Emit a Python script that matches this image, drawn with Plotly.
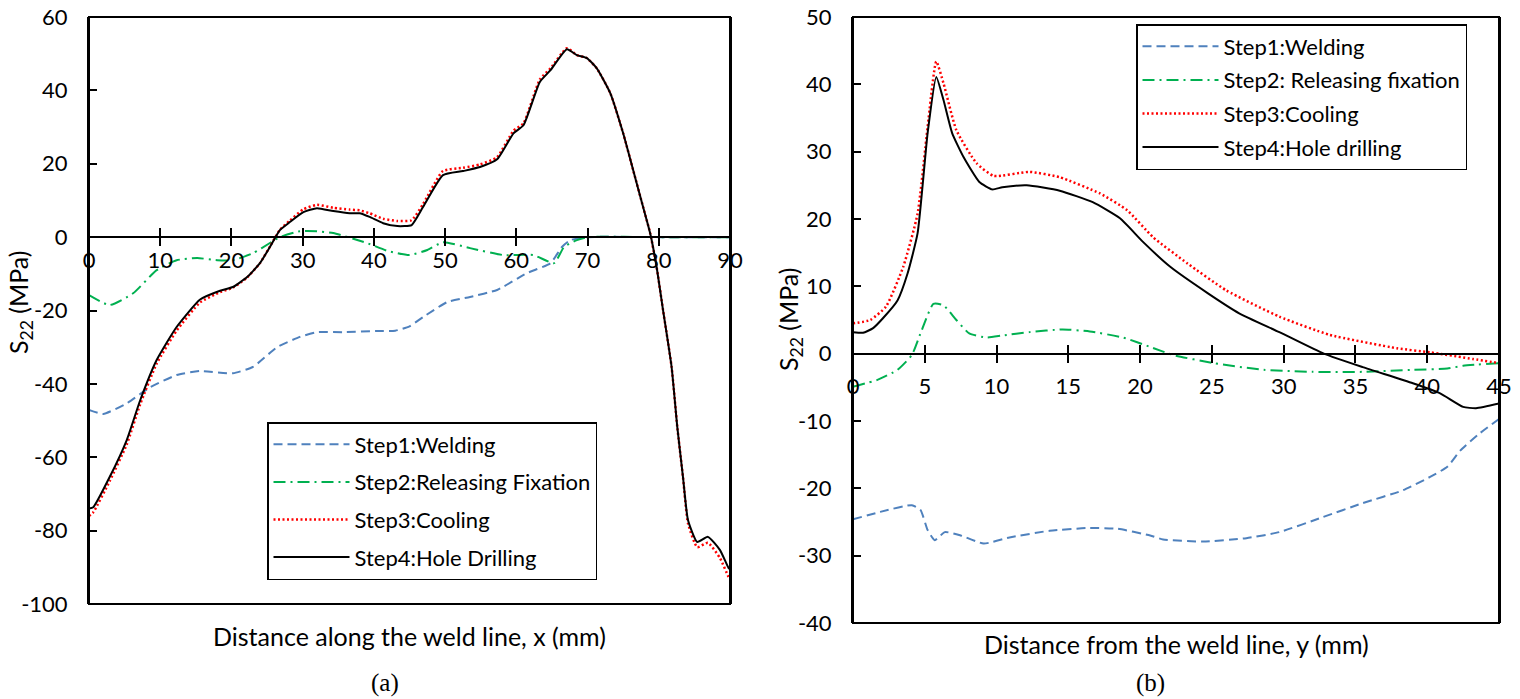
import plotly.graph_objects as go

# ---------------- Data: (a) along the weld line ----------------
a_x_step1 = [0, 2, 5.3, 8.6, 12.3, 15.6, 20.2, 23.0, 26.4, 29.6, 32, 35.7, 40.4, 43, 45, 46.9, 50.3, 53.5, 57.3, 61.5, 64.8, 66.4, 67.6, 70, 80, 90]
a_y_step1 = [-47.1, -48.2, -45.3, -40.9, -37.6, -36.5, -37.1, -35.4, -30, -27.2, -25.9, -25.9, -25.6, -25.5, -24.3, -21.8, -17.7, -16.3, -14.4, -9.8, -7.1, -2.7, -0.8, 0, 0, 0]

a_x_step2 = [0, 2.9, 6.2, 9.5, 12.3, 15.2, 18.0, 20.2, 23.0, 25.4, 26.8, 29.6, 32, 34.3, 39.0, 42, 45, 47.5, 49.7, 53.5, 58.2, 62.4, 65.3, 66.7, 68.5, 70, 80, 90]
a_y_step2 = [-15.8, -18.5, -15.3, -9.0, -6.3, -5.7, -6.3, -6.3, -4.4, -1.6, 0, 1.6, 1.6, 1.1, -1.6, -3.8, -4.9, -3.5, -1.4, -3.0, -4.9, -4.9, -7.1, -2.7, -0.8, 0, 0, 0]

a_x_step3 = [0, 0.6, 2.9, 5.3, 7.2, 9.5, 12.3, 15.6, 18.4, 20.2, 22.2, 24.0, 25.4, 26.8, 28.2, 30.1, 32.0, 34.3, 36.6, 38.0, 39.4, 41.3, 43.3, 45.3, 46.9, 49.7, 52.5, 54.9, 57.3, 59.6, 61.0, 63.3, 64.8, 67.1, 68.5, 69.9, 71.3, 73.2, 75.0, 76.4, 77.8, 78.8, 79.7, 80.6, 81.8, 82.6, 83.4, 84.1, 85.4, 86.9, 88.6, 89.8, 90]
a_y_step3 = [-76.0, -75.0, -66.5, -56.5, -45.5, -34.5, -25.5, -17.8, -15.0, -13.8, -11.0, -7.1, -2.6, 2.0, 4.5, 7.6, 8.8, 8.0, 7.5, 7.3, 6.5, 5.0, 4.4, 4.6, 9.0, 18.0, 18.9, 19.8, 21.8, 29.0, 31.0, 43.0, 46.0, 51.5, 49.6, 48.8, 46.0, 39.2, 28.3, 18.3, 8.2, 1.0, -8.2, -19.9, -35.4, -51.8, -65.4, -78.0, -84.5, -83.3, -87.5, -92.6, -93.0]

a_x_step4 = [0, 0.6, 2.9, 5.3, 7.2, 9.5, 12.3, 15.6, 18.4, 20.2, 22.2, 24.0, 25.4, 26.8, 28.2, 30.1, 32.0, 34.3, 36.6, 38.0, 39.4, 41.3, 43.3, 45.3, 46.9, 49.7, 52.5, 54.9, 57.3, 59.6, 61.0, 63.3, 64.8, 67.1, 68.5, 69.9, 71.3, 73.2, 75.0, 76.4, 77.8, 78.8, 79.7, 80.6, 81.8, 82.6, 83.4, 84.1, 85.4, 86.9, 88.6, 89.8, 90]
a_y_step4 = [-74.0, -73.6, -65.4, -55.3, -44.4, -33.5, -24.5, -17.0, -14.6, -13.6, -10.9, -7.1, -2.7, 1.9, 4.1, 6.8, 7.9, 7.1, 6.5, 6.5, 5.5, 3.8, 3.0, 3.3, 8.2, 16.9, 18.0, 19.1, 21.2, 28.3, 30.5, 42.3, 45.5, 51.2, 49.6, 48.8, 46.0, 39.2, 28.3, 18.3, 8.2, 1.0, -8.2, -19.9, -35.4, -51.8, -65.4, -77.1, -83.1, -81.7, -85.3, -90.2, -90.5]

# ---------------- Data: (b) from the weld line ----------------
b_x_step1 = [0, 1.9, 4.1, 4.7, 5.2, 5.7, 6.4, 7.5, 9.1, 10.9, 13.7, 16.3, 18.4, 20.7, 21.6, 24.4, 27.4, 29.7, 32.7, 35.5, 38.3, 40.2, 41.4, 42.3, 43.5, 45]
b_y_step1 = [-24.6, -23.5, -22.5, -23.2, -26.2, -27.7, -26.5, -27.0, -28.2, -27.3, -26.3, -25.9, -26.0, -27.0, -27.6, -27.9, -27.4, -26.5, -24.3, -22.2, -20.3, -18.3, -16.8, -14.4, -12.1, -9.7]

b_x_step2 = [0, 1.7, 3.1, 4.1, 4.7, 5.6, 6.3, 7.2, 8.1, 9.3, 10.4, 12.3, 14.6, 16.5, 18.8, 20.7, 22.3, 25.1, 28.6, 32, 35.5, 39, 41.4, 42.5, 45]
b_y_step2 = [-4.9, -3.9, -2.4, -0.2, 3.0, 7.4, 7.2, 5.0, 3.0, 2.4, 2.7, 3.2, 3.6, 3.3, 2.4, 1.0, -0.2, -1.4, -2.4, -2.7, -2.7, -2.4, -2.2, -1.8, -1.4]

b_x_step3 = [0, 1.2, 2.3, 3.5, 4.5, 5.2, 5.8, 6.3, 7.2, 8.6, 9.8, 12.3, 14.4, 17.2, 19.1, 20.9, 23.3, 26.0, 29.7, 33.2, 37.9, 40.2, 43.2, 45]
b_y_step3 = [4.5, 5.0, 7.0, 12.9, 20.8, 33.7, 43.4, 40.2, 33.2, 28.3, 26.4, 27.0, 26.2, 23.8, 21.3, 17.3, 13.4, 9.4, 5.5, 2.8, 0.8, 0.2, -0.8, -1.4]

b_x_step4 = [0, 0.7, 1.4, 2.1, 3.1, 3.8, 4.5, 5.2, 5.8, 6.3, 6.9, 7.7, 8.8, 9.7, 10.4, 12.1, 14.4, 16.7, 18.6, 20.2, 22.1, 24.7, 26.9, 29.7, 32.8, 35.5, 39.0, 40.9, 42.5, 43.4, 45]
b_y_step4 = [3.2, 3.1, 3.8, 5.3, 7.9, 11.9, 17.9, 32.8, 41.1, 37.7, 32.8, 29.2, 25.5, 24.4, 24.7, 25.0, 24.2, 22.5, 20.1, 16.6, 12.9, 9.0, 6.0, 3.2, 0.0, -2.0, -4.4, -5.9, -7.9, -8.1, -7.4]

names_a = ["Step1:Welding", "Step2:Releasing Fixation", "Step3:Cooling", "Step4:Hole Drilling"]
names_b = ["Step1:Welding", "Step2: Releasing fixation", "Step3:Cooling", "Step4:Hole drilling"]

a_xticks = list(range(0, 91, 10))
a_yticks = list(range(-100, 61, 20))
b_xticks = list(range(0, 46, 5))
b_yticks = list(range(-40, 51, 10))

# ---------------- Styles ----------------
W, H = 1520, 699
FONT = "Lato"
styles = [
    dict(color="#4F81BD", width=2, dash="9px,5px"),
    dict(color="#00B050", width=2, dash="12px,5px,2px,5px"),
    dict(color="#FF0000", width=2.5, dash="2px,2.5px"),
    dict(color="#000000", width=2, dash="solid"),
]

a_dom_x = [89 / W, 730 / W]
a_dom_y = [1 - 604 / H, 1 - 17 / H]
b_dom_x = [853 / W, 1499 / W]
b_dom_y = [1 - 623 / H, 1 - 17 / H]
a_zero = a_dom_y[0] + (0 - (-100)) / 160 * (a_dom_y[1] - a_dom_y[0])
b_zero = b_dom_y[0] + (0 - (-40)) / 90 * (b_dom_y[1] - b_dom_y[0])

fig = go.Figure()

a_sets = [(a_x_step1, a_y_step1), (a_x_step2, a_y_step2), (a_x_step3, a_y_step3), (a_x_step4, a_y_step4)]
b_sets = [(b_x_step1, b_y_step1), (b_x_step2, b_y_step2), (b_x_step3, b_y_step3), (b_x_step4, b_y_step4)]

for i, (xs, ys) in enumerate(a_sets):
    fig.add_trace(go.Scatter(x=xs, y=ys, mode="lines", name=names_a[i], line=dict(**styles[i], shape="spline", smoothing=0.5),
                             xaxis="x", yaxis="y", legend="legend", legendgroup=f"a{i}"))
for i, (xs, ys) in enumerate(b_sets):
    fig.add_trace(go.Scatter(x=xs, y=ys, mode="lines", name=names_b[i], line=dict(**styles[i], shape="spline", smoothing=0.5),
                             xaxis="x2", yaxis="y2", legend="legend2", legendgroup=f"b{i}"))

# dummy traces to register the overlay tick axes
fig.add_trace(go.Scatter(x=[], y=[], xaxis="x3", yaxis="y", showlegend=False, hoverinfo="skip"))
fig.add_trace(go.Scatter(x=[], y=[], xaxis="x4", yaxis="y2", showlegend=False, hoverinfo="skip"))

tickfont = dict(family=FONT, size=22, color="black")

def xax(dom, rng, ticks, pos, standoff):
    return dict(domain=dom, range=rng, anchor="free", position=pos, tickvals=ticks,
                ticktext=[str(t) for t in ticks],
                ticks="inside", ticklen=8, tickwidth=2, tickcolor="black",
                showline=True, linecolor="black", linewidth=2, showgrid=False, zeroline=False,
                tickfont=tickfont, ticklabelstandoff=standoff, fixedrange=True, automargin=False)

def xax_lower(over, dom, rng, ticks, pos):
    return dict(overlaying=over, domain=dom, range=rng, anchor="free", position=pos, tickvals=ticks,
                ticks="outside", ticklen=8, tickwidth=2, tickcolor="black", showticklabels=False,
                showline=False, showgrid=False, zeroline=False, fixedrange=True, automargin=False)

def yax(dom, rng, ticks, anchor):
    return dict(domain=dom, range=rng, anchor=anchor, tickvals=ticks,
                ticktext=[str(t) for t in ticks],
                ticks="inside", ticklen=8, tickwidth=2, tickcolor="black",
                showline=True, linecolor="black", linewidth=2, mirror=True,
                showgrid=False, zeroline=False, tickfont=tickfont, ticklabelstandoff=15,
                fixedrange=True, automargin=False)

legfont = dict(family=FONT, size=22, color="black")

fig.update_layout(
    width=W, height=H, margin=dict(l=0, r=0, t=0, b=0, autoexpand=False),
    paper_bgcolor="white", plot_bgcolor="white",
    xaxis=xax(a_dom_x, [0, 90], a_xticks, a_zero, 3),
    xaxis3=xax_lower("x", a_dom_x, [0, 90], a_xticks, a_zero),
    yaxis=yax(a_dom_y, [-100, 60], a_yticks, "x"),
    xaxis2=xax(b_dom_x, [0, 45], b_xticks, b_zero, 13),
    xaxis4=xax_lower("x2", b_dom_x, [0, 45], b_xticks, b_zero),
    yaxis2=yax(b_dom_y, [-40, 50], b_yticks, "x2"),
    legend=dict(x=267 / W, y=1 - 422 / H, xanchor="left", yanchor="top", bgcolor="white",
                bordercolor="black", borderwidth=1.5, font=legfont, itemwidth=76, tracegroupgap=6),
    legend2=dict(x=1136 / W, y=1 - 24 / H, xanchor="left", yanchor="top", bgcolor="white",
                 bordercolor="black", borderwidth=1.5, font=legfont, itemwidth=76, tracegroupgap=2),
    showlegend=True,
)

# plot frames
for xr, yr in (("x domain", "y domain"), ("x2 domain", "y2 domain")):
    fig.add_shape(type="rect", xref=xr, yref=yr, x0=0, x1=1, y0=0, y1=1,
                  line=dict(color="black", width=2), layer="above")

titlefont = dict(family=FONT, size=25, color="black")
fig.add_annotation(text="Distance along the weld line, x (mm)", xref="paper", yref="paper",
                   x=409.5 / W, y=1 - 636 / H, showarrow=False, font=titlefont, xanchor="center", yanchor="middle")
fig.add_annotation(text="Distance from the weld line, y (mm)", xref="paper", yref="paper",
                   x=1176 / W, y=1 - 644 / H, showarrow=False, font=titlefont, xanchor="center", yanchor="middle")
fig.add_annotation(text="S<sub>22</sub> (MPa)", xref="paper", yref="paper", textangle=-90,
                   x=20 / W, y=1 - 303 / H, showarrow=False, font=titlefont, xanchor="center", yanchor="middle")
fig.add_annotation(text="S<sub>22</sub> (MPa)", xref="paper", yref="paper", textangle=-90,
                   x=790 / W, y=1 - 320 / H, showarrow=False, font=titlefont, xanchor="center", yanchor="middle")
capfont = dict(family="Liberation Serif", size=25, color="black")
fig.add_annotation(text="(a)", xref="paper", yref="paper", x=385 / W, y=1 - 683 / H,
                   showarrow=False, font=capfont, xanchor="center", yanchor="middle")
fig.add_annotation(text="(b)", xref="paper", yref="paper", x=1150 / W, y=1 - 683 / H,
                   showarrow=False, font=capfont, xanchor="center", yanchor="middle")

fig.write_html("out.html", config={"displayModeBar": False},
               post_script="document.body.style.margin='0';document.body.style.overflow='hidden';")
